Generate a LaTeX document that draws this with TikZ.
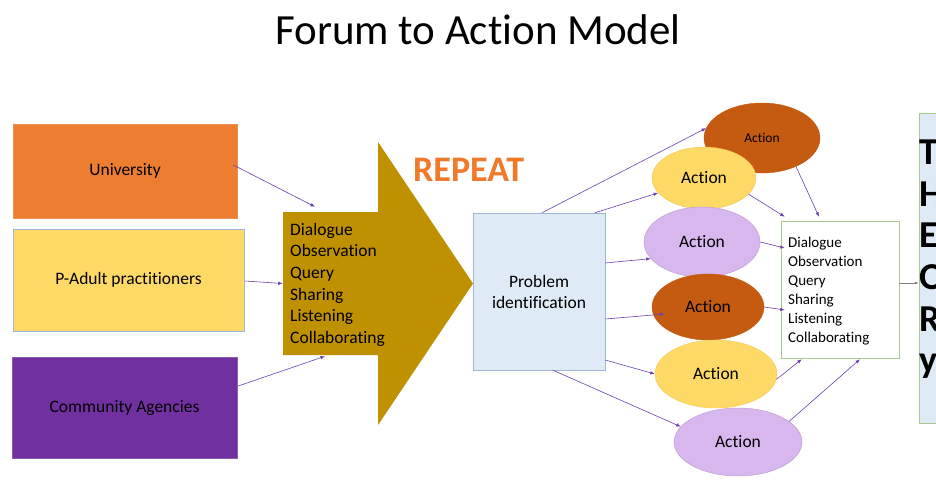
\documentclass[tikz,border=0pt]{standalone}
\usepackage{fontspec}
\setmainfont{Carlito}[Ligatures=NoCommon]
\usetikzlibrary{shapes.geometric,arrows.meta}
\definecolor{uorange}{HTML}{ED7D31}
\definecolor{uyellow}{HTML}{FFD966}
\definecolor{upurple}{HTML}{7030A0}
\definecolor{ugold}{HTML}{BF9000}
\definecolor{urepeat}{HTML}{F07A2A}
\definecolor{ublue}{HTML}{DEEBF7}
\definecolor{ubluebd}{HTML}{9DB7DA}
\definecolor{udark}{HTML}{C55A11}
\definecolor{ulav}{HTML}{D8B6EE}
\definecolor{ugreen}{HTML}{A9C98E}
\definecolor{linkc}{HTML}{6A3FB0}
\begin{document}
\begin{tikzpicture}[x=1pt,y=-1pt,
  box/.style={rectangle, inner sep=0pt, line width=0.5pt},
  act/.style={ellipse, inner sep=0pt, line width=0.4pt, font=\fontsize{17.5}{20}\selectfont},
  conn/.style={draw=linkc, line width=0.6pt, -{Latex[length=4.5pt,width=3.5pt]}},
  lbl/.style={font=\fontsize{17.5}{21}\selectfont, align=center}]
\useasboundingbox (0,0) rectangle (936,479);
\fill[white] (0,0) rectangle (936,479);
% title
\node[font=\fontsize{43}{48}\selectfont] (title) at (478,30) {Forum to Action Model};
% left boxes
\node[box, fill=uorange, draw=uorange!85!white, minimum width=224pt, minimum height=94pt, lbl] (univ) at (125,171) {University};
\node[box, fill=uyellow, draw=ubluebd, minimum width=231pt, minimum height=102pt, lbl] (padult) at (128.5,280) {P-Adult practitioners};
\node[box, fill=upurple, draw=upurple!80!white, minimum width=225pt, minimum height=101pt, lbl] (comm) at (124.5,407.5) {Community Agencies};
% big arrow
\fill[ugold] (283,212) -- (378,212) -- (378,142) -- (473,283.5) -- (378,425) -- (378,355) -- (283,355) -- cycle;
\node[box, minimum width=95pt, minimum height=143pt] (shaft) at (330.5,283.5) {};
\node[anchor=north west, inner sep=0pt, align=left, font=\fontsize{17.5}{21.6}\selectfont] (shafttext) at (290,223)
  {Dialogue\\Observation\\Query\\Sharing\\Listening\\Collaborating};
\node[anchor=west, inner sep=0pt, text=urepeat, font=\bfseries\fontsize{36}{40}\selectfont] (repeat) at (413,170) {REPEAT};
% problem box
\node[box, fill=ublue, draw=ubluebd, minimum width=132pt, minimum height=157pt, lbl] (prob) at (539,291.5) {Problem\\identification};
% ellipses
\node[act, fill=udark, draw=udark, minimum width=116pt, minimum height=70pt, font=\fontsize{13.5}{16}\selectfont] (e1) at (762,138) {Action};
\node[act, fill=uyellow, draw=uyellow!80!ugold, minimum width=104pt, minimum height=62pt] (e2) at (704,178) {Action};
\node[act, fill=ulav, draw=ulav!85!black, minimum width=116pt, minimum height=70pt] (e3) at (702,242) {Action};
\node[act, fill=udark, draw=udark, minimum width=112pt, minimum height=66pt] (e4) at (708,307) {Action};
\node[act, fill=uyellow, draw=uyellow!80!ugold, minimum width=122pt, minimum height=68pt] (e5) at (716,374) {Action};
\node[act, fill=ulav, draw=ulav!85!black, minimum width=128pt, minimum height=68pt] (e6) at (738,442) {Action};
% right white box
\node[box, fill=white, draw=ugreen, minimum width=118pt, minimum height=137pt] (wbox) at (840,289.5) {};
\node[anchor=north west, inner sep=0pt, align=left, font=\fontsize{15}{19}\selectfont] (wtext) at (788,236.5)
  {Dialogue\\Observation\\Query\\Sharing\\Listening\\Collaborating};
% theory box
\node[box, fill=ublue, draw=ugreen, minimum width=40pt, minimum height=310pt] (theory) at (939,268) {};
\node[anchor=north west, inner sep=0pt, align=left, font=\bfseries\fontsize{38}{41.7}\selectfont] (theorytext) at (919,139.5)
  {T\\H\\E\\O\\R\\y};
% connectors left
\draw[conn] ([shift={(-4,-6)}]univ.east) -- ([shift={(-15.5,-5)}]shaft.north);
\draw[conn] ([shift={(1,1)}]padult.east) -- (shaft.west);
\draw[conn] ([shift={(1,-21.5)}]comm.east) -- ([shift={(-5.5,1)}]shaft.south);
% connectors problem -> actions
\draw[conn] ([shift={(3,0)}]prob.north) -- (e1.170);
\draw[conn] ([shift={(56,0)}]prob.north) -- (e2.198);
\draw[conn] ([shift={(0,-28.5)}]prob.east) -- (e3.198);
\draw[conn] ([shift={(0,27.5)}]prob.east) -- ([shift={(13,7)}]e4.west);
\draw[conn] ([shift={(0,68.5)}]prob.east) -- (e5.west);
\draw[conn] ([shift={(14,0)}]prob.south) -- (e6.165);
% connectors actions -> white box
\draw[conn] (e1.-40) -- ([shift={(-21,-4)}]wbox.north);
\draw[conn] (e2.-20) -- ([shift={(4,-4)}]wbox.north west);
\draw[conn] (e3.east) -- ([shift={(4,-41.5)}]wbox.west);
\draw[conn] (e4.east) -- ([shift={(4,20.5)}]wbox.west);
\draw[conn] (e5.-5) -- ([shift={(21,1)}]wbox.south west);
\draw[conn] (e6.22) -- ([shift={(20,1)}]wbox.south);
% white box -> theory
\draw[draw=gray, line width=0.6pt, -{Latex[length=4pt,width=3pt]}] ([shift={(0,-6.5)}]wbox.east) -- ([shift={(0,15)}]theory.west);
\end{tikzpicture}
\end{document}
